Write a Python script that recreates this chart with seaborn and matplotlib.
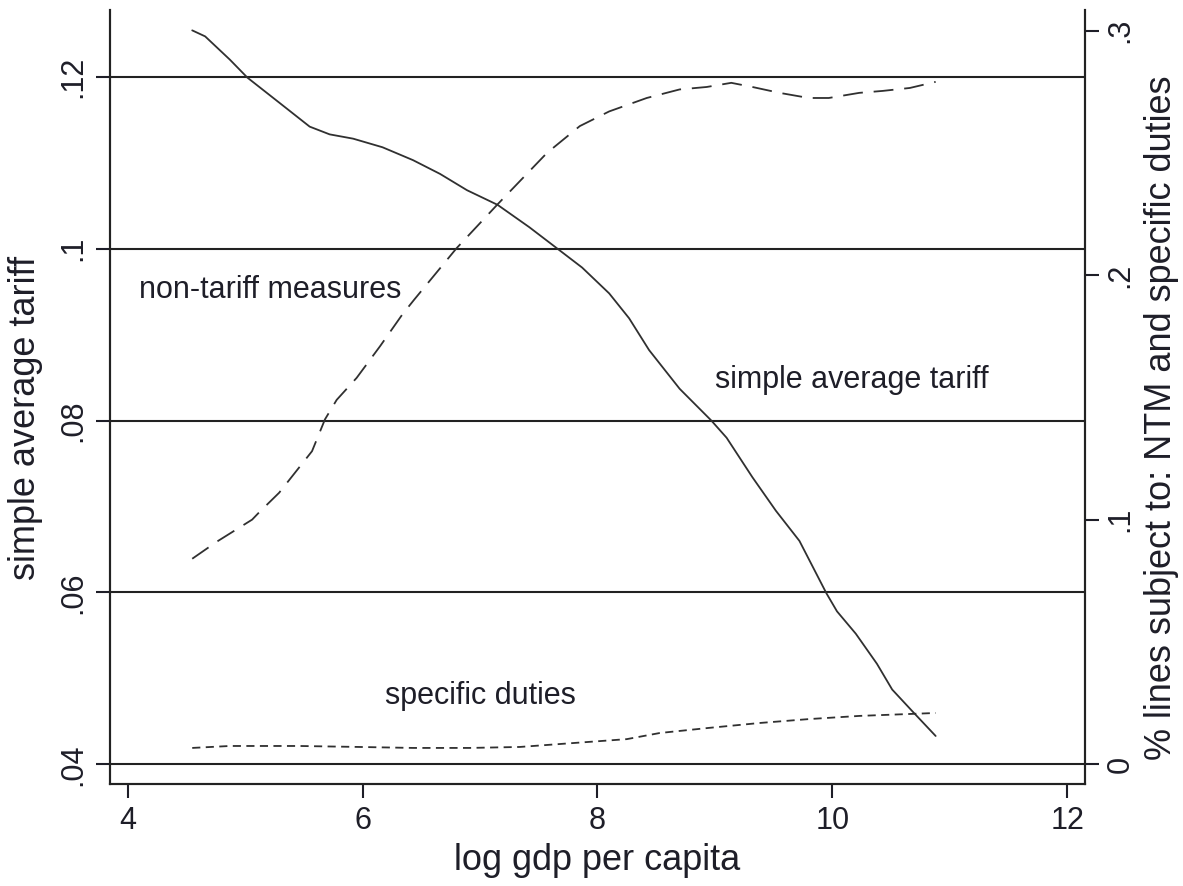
import numpy as np
import pandas as pd
import matplotlib
matplotlib.use('Agg')
import matplotlib.pyplot as plt
import seaborn as sns

# values
tariff_x = [4.55, 4.66, 4.87, 5.02, 5.29, 5.55, 5.72, 5.92, 6.17, 6.43, 6.66, 6.89,
            7.15, 7.42, 7.65, 7.87, 8.10, 8.27, 8.44, 8.70, 8.97, 9.10, 9.32, 9.52,
            9.72, 9.95, 10.04, 10.20, 10.38, 10.51, 10.68, 10.88]
tariff_y = [0.1254, 0.1247, 0.1220, 0.1199, 0.1170, 0.1142, 0.1133, 0.1128, 0.1118,
            0.1103, 0.1087, 0.1068, 0.1051, 0.1025, 0.1001, 0.0978, 0.0948, 0.0919,
            0.0882, 0.0837, 0.0800, 0.0780, 0.0734, 0.0695, 0.0660, 0.0599, 0.0578,
            0.0552, 0.0517, 0.0487, 0.0462, 0.0433]

ntm_x = [4.55, 4.76, 5.06, 5.12, 5.29, 5.57, 5.68, 5.78, 5.95, 6.15, 6.34, 6.44,
         6.80, 7.15, 7.57, 7.85, 8.10, 8.42, 8.70, 8.93, 9.14, 9.32, 9.55, 9.80,
         9.97, 10.23, 10.43, 10.66, 10.88]
ntm_y = [0.084, 0.091, 0.100, 0.103, 0.111, 0.128, 0.141, 0.149, 0.158, 0.171,
         0.184, 0.190, 0.211, 0.229, 0.250, 0.261, 0.267, 0.2725, 0.276, 0.277,
         0.2787, 0.277, 0.2746, 0.2725, 0.2725, 0.2746, 0.2754, 0.2766, 0.2791]

spec_x = [4.55, 4.87, 5.46, 5.97, 6.43, 6.91, 7.34, 7.68, 8.25, 8.53, 8.95, 9.38,
          9.80, 10.23, 10.88]
spec_y = [0.0066, 0.0074, 0.0074, 0.0070, 0.0066, 0.0066, 0.0070, 0.0082, 0.0102,
          0.0127, 0.0148, 0.0168, 0.0184, 0.0197, 0.0209]

left_ticks = [0.04, 0.06, 0.08, 0.10, 0.12]
left_labels = ['.04', '.06', '.08', '.1', '.12']
right_ticks = [0.0, 0.1, 0.2, 0.3]
right_labels = ['0', '.1', '.2', '.3']
x_ticks = [4, 6, 8, 10, 12]

sns.set_theme(style='white')
plt.rcParams['font.family'] = ['Liberation Sans', 'DejaVu Sans']

txt = '#1e1e28'
line_col = '#303030'
fs = 22        # tick labels and annotations
fs_title = 26  # axis titles

fig = plt.figure(figsize=(11.83, 8.86), dpi=100)
ax = fig.add_axes([0.093, 0.115, 0.824, 0.874])
ax2 = ax.twinx()

tariff = pd.DataFrame({'x': tariff_x, 'y': tariff_y})
ntm = pd.DataFrame({'x': ntm_x, 'y': ntm_y})
spec = pd.DataFrame({'x': spec_x, 'y': spec_y})

sns.lineplot(data=tariff, x='x', y='y', ax=ax, color=line_col, lw=1.3)
sns.lineplot(data=ntm, x='x', y='y', ax=ax2, color=line_col, lw=1.3,
             linestyle=(0, (11, 6)))
sns.lineplot(data=spec, x='x', y='y', ax=ax2, color=line_col, lw=1.3,
             linestyle=(0, (4.5, 3)))

ax.set_xlim(3.85, 12.15)
ax.set_ylim(0.0377, 0.1278)
ax2.set_ylim(-0.0082, 0.3086)

ax.set_xticks(x_ticks)
ax.set_xticklabels([str(t) for t in x_ticks])
ax.set_yticks(left_ticks)
ax.set_yticklabels(left_labels, rotation=90, va='center')
ax2.set_yticks(right_ticks)
ax2.set_yticklabels(right_labels, rotation=90, va='center')

ax.grid(axis='y', color='#222222', lw=1.5)
ax.grid(axis='x', visible=False)
ax2.grid(False)

for a in (ax, ax2):
    a.spines['top'].set_visible(False)
    for s in ('left', 'right', 'bottom'):
        a.spines[s].set_color('#222222')
        a.spines[s].set_linewidth(1.5)
    a.tick_params(colors=txt, labelsize=fs, length=10, width=1.5, direction='out')
ax.tick_params(axis='both', left=True, bottom=True, pad=6)
ax2.tick_params(axis='y', right=True, pad=5)

ax.set_xlabel('log gdp per capita', fontsize=fs_title, color=txt, labelpad=5)
ax.set_ylabel('simple average tariff', fontsize=fs_title, color=txt)
ax2.set_ylabel('% lines subject to: NTM and specific duties', fontsize=fs_title,
               color=txt)
# both axis titles sit a little below the middle of the plot, as in the original
ax.yaxis.set_label_coords(-0.069, 0.473)
ax2.yaxis.set_label_coords(1.061, 0.473)

ax.text(4.10, 0.0952, 'non-tariff measures', fontsize=fs, color=txt,
        ha='left', va='center')
ax.text(9.0, 0.0847, 'simple average tariff', fontsize=fs, color=txt,
        ha='left', va='center')
ax.text(6.19, 0.0479, 'specific duties', fontsize=fs, color=txt,
        ha='left', va='center')

fig.savefig('out.png', dpi=100)
